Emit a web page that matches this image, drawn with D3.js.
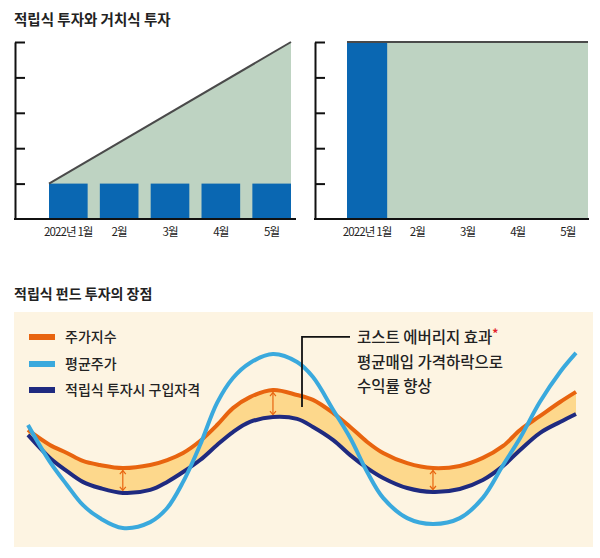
<!DOCTYPE html>
<html><head><meta charset="utf-8">
<script src="https://cdn.jsdelivr.net/npm/d3@7"></script>
<style>
html,body{margin:0;padding:0;background:#fff;}
svg{display:block;font-family:"Noto Sans CJK KR","Noto Sans",sans-serif;}
</style></head>
<body><svg id="c" width="600" height="558"></svg>
<script>
// ---------- data ----------
const months = ["2022년 1월", "2월", "3월", "4월", "5월"];
const yTicks = [1, 2, 3, 4, 5];
const installment = [1, 1, 1, 1, 1];          // 적립식: monthly purchases
const installmentTotal = [1, 2, 3, 4, 5];     // cumulative invested
const lumpSum = [5, 0, 0, 0, 0];              // 거치식: one-time purchase
const lumpTotal = [5, 5, 5, 5, 5];

const period = [0, 4.0, 7.1, 10.0, 13.1, 17.3, 22.3, 25.4, 28.3, 31.4, 34.5, 37.4, 40.5, 44.7, 49.1,
  52.0, 55.7, 58.8, 61.9, 64.8, 69.2, 73.9, 78.8, 83.0, 86.7, 89.8, 93.4, 97.1, 100];
const stockIndex = [49.8, 43.4, 40.0, 36.6, 34.9, 33.6, 34.9, 37.0, 40.0, 45.1, 51.9, 59.1, 63.8, 66.8, 64.7,
  62.6, 57.0, 51.1, 44.7, 40.0, 35.7, 33.6, 34.5, 37.9, 43.0, 49.8, 55.7, 61.7, 66.0];
const avgPrice = [51.9, 36.2, 26.4, 17.9, 12.3, 8.1, 10.6, 16.6, 27.7, 43.4, 61.3, 71.9, 78.3, 82.1, 78.7,
  72.3, 58.3, 46.4, 31.9, 20.9, 12.3, 9.8, 12.3, 20.9, 34.9, 46.4, 61.7, 74.5, 82.6];
const buyPrice = [47.7, 37.9, 32.3, 27.7, 25.1, 23.0, 24.3, 27.7, 31.9, 37.0, 43.4, 48.9, 53.2, 55.3, 54.5,
  51.1, 45.5, 39.1, 33.6, 29.4, 25.1, 23.4, 24.7, 28.5, 34.5, 41.3, 48.5, 53.2, 56.6];
const arrowIdx = [5, 13, 21];

const legendItems = ["주가지수", "평균주가", "적립식 투자시 구입자격"];
const noteLines = ["코스트 에버리지 효과", "평균매입 가격하락으로", "수익률 향상"];
const titles = ["적립식 투자와 거치식 투자", "적립식 펀드 투자의 장점"];

// ---------- styles ----------
const C = {blue:"#0a67b2", green:"#bed3c2", line:"#4a4a4a", orange:"#e8640f", sky:"#3aa9dd",
  navy:"#1f2a80", band:"#fdd88c", panel:"#fdf4e2", text:"#222"};

const svg = d3.select("#c");

// titles
svg.append("text").attr("x", 14).attr("y", 25).attr("font-size", 14.5).attr("font-weight", 700)
  .attr("fill", C.text).text(titles[0]);
svg.append("text").attr("x", 14).attr("y", 299).attr("font-size", 14).attr("font-weight", 700)
  .attr("fill", C.text).text(titles[1]);

// ---------- top charts ----------
const y = d3.scaleLinear().domain([0, 5]).range([219, 42]);

function topChart(axisX, bandRange, pad, axisEnd, drawFn) {
  const g = svg.append("g");
  const x = d3.scaleBand().domain(months).range(bandRange).paddingInner(pad).paddingOuter(0);
  drawFn(g, x);
  const ya = g.append("g").attr("transform", `translate(${axisX},0)`)
    .call(d3.axisLeft(y).tickValues(yTicks).tickSizeInner(-10).tickSizeOuter(0).tickFormat(""));
  ya.selectAll("path,line").attr("stroke", "#111").attr("stroke-width", 2);
  g.append("line").attr("x1", axisX - 1).attr("x2", axisEnd).attr("y1", y(0)).attr("y2", y(0))
    .attr("stroke", "#111").attr("stroke-width", 2);
  const xa = g.append("g").attr("transform", `translate(0,${y(0)})`)
    .call(d3.axisBottom(x).tickSize(0).tickPadding(9));
  xa.select(".domain").remove();
  xa.selectAll("text").attr("font-size", 11.5).attr("letter-spacing", "-0.9px")
    .attr("fill", C.text).attr("font-family", "'Noto Sans CJK KR',sans-serif");
  return x;
}

// left: 적립식
topChart(15, [49, 291], 0.24, 296, (g, x) => {
  const pts = [
    {px: x(months[0]), v: installmentTotal[0]},
    {px: x(months[months.length - 1]) + x.bandwidth(), v: installmentTotal[installmentTotal.length - 1]}
  ];
  g.append("path").datum(pts)
    .attr("d", d3.area().x(d => d.px).y0(y(0)).y1(d => y(d.v)))
    .attr("fill", C.green);
  g.selectAll("rect.bar").data(months).join("rect")
    .attr("x", m => x(m)).attr("width", x.bandwidth())
    .attr("y", (m, i) => y(installment[i])).attr("height", (m, i) => y(0) - y(installment[i]))
    .attr("fill", C.blue);
  g.append("path").datum(pts)
    .attr("d", d3.line().x(d => d.px).y(d => y(d.v)))
    .attr("stroke", C.line).attr("stroke-width", 2).attr("fill", "none");
});

// right: 거치식
topChart(315, [347, 588], 0.2, 589, (g, x) => {
  const pts = [
    {px: x(months[0]), v: lumpTotal[0]},
    {px: x(months[months.length - 1]) + x.bandwidth(), v: lumpTotal[lumpTotal.length - 1]}
  ];
  g.append("path").datum(pts)
    .attr("d", d3.area().x(d => d.px).y0(y(0)).y1(d => y(d.v)))
    .attr("fill", C.green);
  g.selectAll("rect.bar").data(months.filter((m, i) => lumpSum[i] > 0)).join("rect")
    .attr("x", m => x(m)).attr("width", x.bandwidth())
    .attr("y", m => y(lumpSum[months.indexOf(m)])).attr("height", m => y(0) - y(lumpSum[months.indexOf(m)]))
    .attr("fill", C.blue);
  g.append("path").datum(pts)
    .attr("d", d3.line().x(d => d.px).y(d => y(d.v)))
    .attr("stroke", C.line).attr("stroke-width", 2).attr("fill", "none");
});

// ---------- bottom chart ----------
const bx = d3.scaleLinear().domain([0, 100]).range([28, 576]);
const by = d3.scaleLinear().domain([0, 100]).range([547, 312]);
svg.append("rect").attr("x", 14).attr("y", by(100)).attr("width", 579).attr("height", by(0) - by(100))
  .attr("fill", C.panel);

const rows = period.map((t, i) => ({t, idx: stockIndex[i], avg: avgPrice[i], buy: buyPrice[i]}));
const curve = d3.curveCatmullRom.alpha(0.5);

svg.append("path").datum(rows)
  .attr("d", d3.area().curve(curve).x(d => bx(d.t)).y0(d => by(d.buy)).y1(d => by(d.idx)))
  .attr("fill", C.band);

const lineOf = key => d3.line().curve(curve).x(d => bx(d.t)).y(d => by(d[key]));
svg.append("path").datum(rows).attr("d", lineOf("buy")).attr("fill", "none")
  .attr("stroke", C.navy).attr("stroke-width", 4);
svg.append("path").datum(rows).attr("d", lineOf("idx")).attr("fill", "none")
  .attr("stroke", C.orange).attr("stroke-width", 4);

// arrows
arrowIdx.forEach(i => {
  const xx = bx(period[i]), y1 = by(stockIndex[i]) + 2.5, y2 = by(buyPrice[i]) - 2.5;
  const g = svg.append("g").attr("stroke", C.orange).attr("stroke-width", 1.2).attr("fill", "none");
  g.append("line").attr("x1", xx).attr("x2", xx).attr("y1", y1).attr("y2", y2);
  g.append("path").attr("d", `M${xx - 3},${y1 + 3.5}L${xx},${y1}L${xx + 3},${y1 + 3.5}`);
  g.append("path").attr("d", `M${xx - 3},${y2 - 3.5}L${xx},${y2}L${xx + 3},${y2 - 3.5}`);
});

svg.append("path").datum(rows).attr("d", lineOf("avg")).attr("fill", "none")
  .attr("stroke", C.sky).attr("stroke-width", 4);

// legend
const legColors = [C.orange, C.sky, C.navy];
const legY = [337, 364, 390];
legendItems.forEach((s, i) => {
  svg.append("rect").attr("x", 29).attr("y", legY[i] - 3).attr("width", 26).attr("height", 6)
    .attr("fill", legColors[i]);
  svg.append("text").attr("x", 65).attr("y", legY[i] + 5).attr("font-size", 14)
    .attr("font-weight", 500).attr("fill", C.text).text(s);
});

// annotation
const leaderT = 50, leaderTop = 89.4;
const lx = bx(leaderT);
const lyBottom = by((stockIndex[14] + buyPrice[14]) / 2);
svg.append("path")
  .attr("d", `M${lx},${lyBottom}V${by(leaderTop)}H${lx + 48}`)
  .attr("fill", "none").attr("stroke", "#111").attr("stroke-width", 1.8);
const noteY = [343, 367.5, 391.5];
noteLines.forEach((s, i) => {
  const t = svg.append("text").attr("x", 357).attr("y", noteY[i]).attr("font-size", 15.5)
    .attr("font-weight", 500).attr("fill", C.text).text(s);
  if (i === 0) t.append("tspan").attr("fill", "#e2232a").attr("font-size", 12).attr("font-weight", 700)
    .attr("dy", -5).text("*");
});
</script></body></html>
